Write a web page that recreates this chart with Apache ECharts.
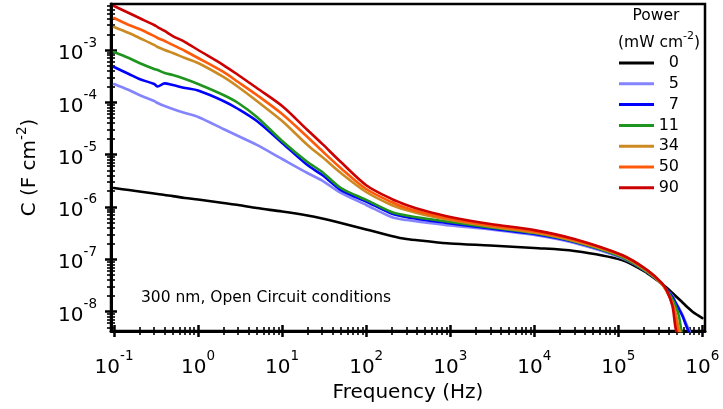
<!DOCTYPE html>
<html><head><meta charset="utf-8">
<script src="https://cdn.jsdelivr.net/npm/echarts@6/dist/echarts.min.js"></script>
<style>html,body{margin:0;padding:0;background:#fff}#c{width:723px;height:409px}</style>
</head><body><div id="c"></div>
<script>
// Frequency grid (Hz)
const freq = [0.1, 0.15, 0.2, 0.3, 0.33, 0.4, 0.5, 0.7, 1, 2, 3, 5, 10, 20, 30, 50, 100, 200, 300, 500, 1e3, 3e3, 1e4, 3e4, 1.1e5, 2.2e5, 3.3e5, 3.8e5, 4.4e5, 4.8e5, 5.25e5, 5.8e5, 6.6e5, 7.7e5, 1e6];
// Capacitance (F cm^-2) per illumination power (mW cm^-2)
const c0  = [2.3e-6, 2.1e-6, 1.97e-6, 1.8e-6, 1.77e-6, 1.69e-6, 1.61e-6, 1.48e-6, 1.39e-6, 1.19e-6, 1.09e-6, 9.5e-7, 8.17e-7, 6.85e-7, 6.0e-7, 4.92e-7, 3.7e-7, 2.78e-7, 2.43e-7, 2.23e-7, 2.0e-7, 1.83e-7, 1.64e-7, 1.44e-7, 9.66e-8, 5.44e-8, 3.36e-8, 2.81e-8, 2.26e-8, 1.98e-8, 1.73e-8, 1.49e-8, 1.22e-8, 9.8e-9, 7.5e-9];
const c5  = [2.24e-4, 1.72e-4, 1.38e-4, 1.06e-4, 9.7e-5, 8.5e-5, 7.45e-5, 6.24e-5, 5.24e-5, 3.09e-5, 2.27e-5, 1.53e-5, 8.24e-6, 4.45e-6, 3.17e-6, 1.85e-6, 1.09e-6, 6.4e-7, 5.6e-7, 5.04e-7, 4.41e-7, 3.7e-7, 2.9e-7, 2.04e-7, 1.05e-7, 5.7e-8, 3.36e-8, 2.58e-8, 1.98e-8, 1.52e-8, 1.17e-8, 8.57e-9, 5.28e-9, 3e-9, null];
const c7  = [4.73e-4, 3.48e-4, 2.79e-4, 2.24e-4, 2.0e-4, 2.3e-4, 2.14e-4, 1.88e-4, 1.68e-4, 1.06e-4, 7.45e-5, 4.39e-5, 1.67e-5, 6.3e-6, 4.07e-6, 2.1e-6, 1.27e-6, 7.48e-7, 6.4e-7, 5.6e-7, 4.82e-7, 3.86e-7, 3.03e-7, 2.13e-7, 1.1e-7, 5.7e-8, 3.36e-8, 2.58e-8, 1.89e-8, 1.46e-8, 1.12e-8, 8.2e-9, 4.8e-9, 3e-9, null];
const c11 = [9.16e-4, 7.03e-4, 5.64e-4, 4.33e-4, 4.15e-4, 3.63e-4, 3.33e-4, 2.79e-4, 2.24e-4, 1.38e-4, 9.7e-5, 5.24e-5, 1.82e-5, 7.2e-6, 4.65e-6, 2.3e-6, 1.36e-6, 8.0e-7, 6.85e-7, 6.0e-7, 5.14e-7, 4.04e-7, 3.17e-7, 2.18e-7, 1.1e-7, 5.7e-8, 3.36e-8, 2.47e-8, 1.73e-8, 1.27e-8, 8.2e-9, 3e-9, null, null, null];
const c34 = [2.75e-3, 2.11e-3, 1.70e-3, 1.25e-3, 1.14e-3, 1.0e-3, 8.76e-4, 7.03e-4, 5.64e-4, 3.05e-4, 1.96e-4, 1.06e-4, 4.39e-5, 1.53e-5, 9.0e-6, 4.45e-6, 1.93e-6, 1.09e-6, 8.7e-7, 7.0e-7, 5.6e-7, 4.22e-7, 3.24e-7, 2.23e-7, 1.15e-7, 5.9e-8, 3.36e-8, 2.36e-8, 1.46e-8, 9.3e-9, 4.8e-9, 3e-9, null, null, null];
const c50 = [4.09e-3, 3.01e-3, 2.52e-3, 1.85e-3, 1.70e-3, 1.49e-3, 1.25e-3, 9.57e-4, 7.03e-4, 3.8e-4, 2.44e-4, 1.38e-4, 5.98e-5, 2.17e-5, 1.17e-5, 5.5e-6, 2.2e-6, 1.24e-6, 9.5e-7, 7.6e-7, 5.9e-7, 4.41e-7, 3.39e-7, 2.33e-7, 1.2e-7, 6.2e-8, 3.36e-8, 2.36e-8, 1.39e-8, 7.5e-9, 3e-9, null, null, null, null];
const c90 = [6.93e-3, 5.09e-3, 4.09e-3, 3.01e-3, 2.75e-3, 2.31e-3, 1.85e-3, 1.42e-3, 1.0e-3, 5.16e-4, 3.33e-4, 1.88e-4, 8.5e-5, 2.95e-5, 1.6e-5, 7.2e-6, 2.6e-6, 1.42e-6, 1.09e-6, 8.4e-7, 6.4e-7, 4.7e-7, 3.6e-7, 2.43e-7, 1.2e-7, 6.2e-8, 3.5e-8, 2.47e-8, 1.27e-8, 4.8e-9, 3e-9, null, null, null, null];

const powerNames = ['0', '5', '7', '11', '34', '50', '90'];
const powerData = [c0, c5, c7, c11, c34, c50, c90];
const colors = ['#000000', '#8484ff', '#0000ff', '#1f951f', '#cc8a22', '#ff5a0a', '#cc0000'];

const xMajor = [0.1, 1, 10, 100, 1e3, 1e4, 1e5, 1e6];
const yMajor = [1e-8, 1e-7, 1e-6, 1e-5, 1e-4, 1e-3];
const xMinor = [];
for (let k = -2; k <= 6; k++) for (let m = 2; m <= 9; m++) xMinor.push(m * Math.pow(10, k));
const yMinor = [];
for (let k = -10; k <= -2; k++) for (let m = 2; m <= 9; m++) yMinor.push(m * Math.pow(10, k));

const X_MIN = 0.092, X_MAX = 1.074e6, Y_MIN = 4.24e-9, Y_MAX = 7.58e-3;
const FONT = 'DejaVu Sans';

const supLabel = v => '{b|10}{e|' + Math.round(Math.log10(v)) + '}';
const labelRich = {
  b: { fontSize: 20, fontFamily: FONT, color: '#000', lineHeight: 28, verticalAlign: 'bottom' },
  e: { fontSize: 13.5, fontFamily: FONT, color: '#000', lineHeight: 13, verticalAlign: 'top' }
};

function mkX(kind, inside) {
  const major = kind === 'major';
  return {
    type: 'log', gridIndex: 0, position: 'bottom', min: X_MIN, max: X_MAX,
    axisLine: { show: false, onZero: false },
    axisTick: { show: true, inside: inside, length: major ? 6 : 4, customValues: major ? xMajor : xMinor,
      lineStyle: { color: '#000', width: major ? 2.5 : 1.6 } },
    axisLabel: { show: false },
    splitLine: { show: false }, minorTick: { show: false }, minorSplitLine: { show: false }
  };
}
function mkY(kind, inside) {
  const major = kind === 'major';
  return {
    type: 'log', gridIndex: 0, position: 'left', min: Y_MIN, max: Y_MAX,
    axisLine: { show: false, onZero: false },
    axisTick: { show: true, inside: inside, length: major ? 6 : 4, customValues: major ? yMajor : yMinor,
      lineStyle: { color: '#000', width: major ? 2.5 : 1.6 } },
    axisLabel: { show: false },
    splitLine: { show: false }, minorTick: { show: false }, minorSplitLine: { show: false }
  };
}

const xAxes = [mkX('major', false), mkX('major', true), mkX('minor', false), mkX('minor', true)];
Object.assign(xAxes[0], {
  axisLine: { show: true, onZero: false, lineStyle: { color: '#000', width: 3 } },
  axisLabel: { show: true, customValues: xMajor, margin: 18.5, formatter: supLabel, rich: labelRich },
  name: 'Frequency (Hz)', nameLocation: 'middle', nameGap: 47,
  nameTextStyle: { fontSize: 20, fontFamily: FONT, color: '#000' }
});
const yAxes = [mkY('major', false), mkY('major', true), mkY('minor', false), mkY('minor', true)];
Object.assign(yAxes[0], {
  axisLine: { show: true, onZero: false, lineStyle: { color: '#000', width: 3 } },
  axisLabel: { show: true, customValues: yMajor, margin: 14, formatter: supLabel, rich: labelRich },
  name: 'C (F cm{s|-2})', nameLocation: 'middle', nameGap: 66, nameRotate: 90,
  nameTextStyle: { fontSize: 20, fontFamily: FONT, color: '#000', lineHeight: 30,
    rich: { s: { fontSize: 13.5, fontFamily: FONT, color: '#000', verticalAlign: 'top', lineHeight: 12 } } }
});

const series = powerNames.map((name, i) => ({
  name: name, type: 'line', xAxisIndex: 0, yAxisIndex: 0,
  data: freq.map((f, j) => [f, powerData[i][j]]).filter(p => p[1] !== null),
  symbol: 'none', showSymbol: false, smooth: 0.3, clip: true,
  lineStyle: { color: colors[i], width: 2.6, join: 'round', cap: 'round' }, itemStyle: { color: colors[i] },
  emphasis: { disabled: true }, animation: false, z: 2 + i
}));

const chart = echarts.init(document.getElementById('c'), null, { renderer: 'canvas' });
chart.setOption({
  animation: false,
  backgroundColor: '#fff',
  textStyle: { fontFamily: FONT },
  grid: { left: 111, right: 18, top: 4, bottom: 78, show: true, borderColor: '#000', borderWidth: 2.5,
    backgroundColor: 'transparent', containLabel: false, outerBoundsMode: 'none' },
  xAxis: xAxes,
  yAxis: yAxes,
  legend: {
    orient: 'vertical', left: 619, top: 54, padding: 0, itemGap: 2.8,
    icon: 'rect', itemWidth: 35, itemHeight: 3,
    data: powerNames,
    formatter: n => '{a|' + n + '}',
    textStyle: { fontSize: 16, fontFamily: FONT, color: '#000', lineHeight: 18,
      rich: { a: { width: 20, align: 'right', fontSize: 16, fontFamily: FONT, color: '#000', lineHeight: 18 } } },
    selectedMode: false
  },
  graphic: [
    { type: 'text', x: 656, y: 16, style: { text: 'Power', fontSize: 15.5, fontFamily: FONT, fill: '#000', align: 'center', verticalAlign: 'middle' } },
    { type: 'text', x: 659, y: 43, style: { text: '(mW cm{s|-2})', fontSize: 15.5, fontFamily: FONT, fill: '#000', align: 'center', verticalAlign: 'middle', lineHeight: 24,
      rich: { s: { fontSize: 11, fontFamily: FONT, fill: '#000', verticalAlign: 'top', lineHeight: 10 } } } },
    { type: 'text', x: 141, y: 298, style: { text: '300 nm, Open Circuit conditions', fontSize: 15.5, fontFamily: FONT, fill: '#000', align: 'left', verticalAlign: 'middle' } }
  ],
  series: series
});
</script>
</body></html>
